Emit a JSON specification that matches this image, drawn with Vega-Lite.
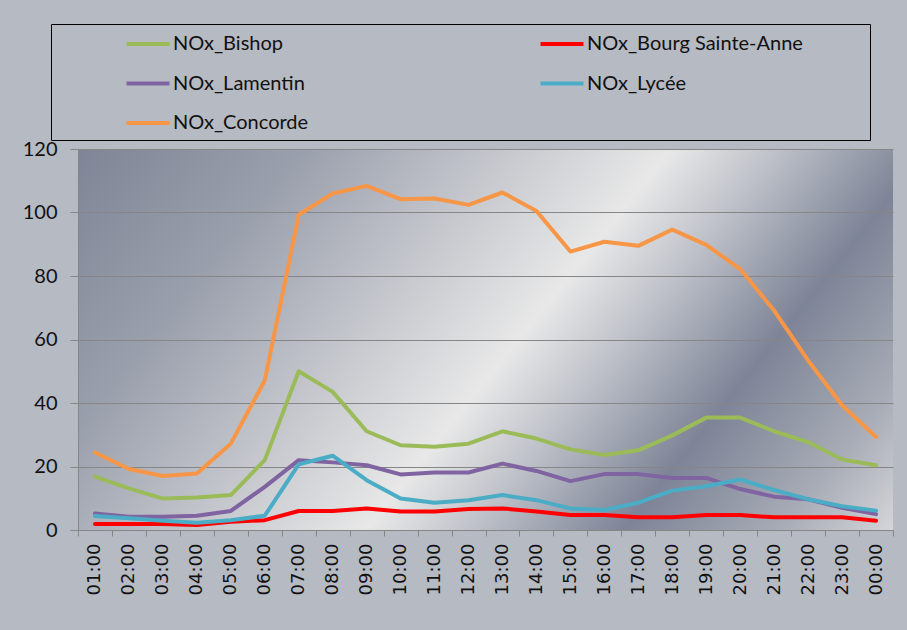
{
  "$schema": "https://vega.github.io/schema/vega-lite/v6.json",
  "autosize": "none",
  "width": 815,
  "height": 381,
  "padding": {"left": 78, "top": 149, "right": 14, "bottom": 100},
  "background": "#b6bac3",
  "config": {
    "view": {
      "stroke": null,
      "fill": {
        "gradient": "linear",
        "x1": 0, "y1": 0, "x2": 1.205, "y2": 0.451,
        "stops": [
          {"offset": 0, "color": "#7f8596"},
          {"offset": 0.2, "color": "#9a9fac"},
          {"offset": 0.53, "color": "#e8e8e8"},
          {"offset": 0.62, "color": "#c0c3ca"},
          {"offset": 0.76, "color": "#7e8497"},
          {"offset": 0.9, "color": "#a8acb6"},
          {"offset": 1, "color": "#d4d5d9"}
        ]
      }
    }
  },
  "data": {
    "values": [
      {"hour": "01:00", "station": "NOx_Bishop", "value": 16.8},
      {"hour": "02:00", "station": "NOx_Bishop", "value": 13.1},
      {"hour": "03:00", "station": "NOx_Bishop", "value": 9.9},
      {"hour": "04:00", "station": "NOx_Bishop", "value": 10.2},
      {"hour": "05:00", "station": "NOx_Bishop", "value": 11},
      {"hour": "06:00", "station": "NOx_Bishop", "value": 22},
      {"hour": "07:00", "station": "NOx_Bishop", "value": 50},
      {"hour": "08:00", "station": "NOx_Bishop", "value": 43.5},
      {"hour": "09:00", "station": "NOx_Bishop", "value": 31.1},
      {"hour": "10:00", "station": "NOx_Bishop", "value": 26.7},
      {"hour": "11:00", "station": "NOx_Bishop", "value": 26.2},
      {"hour": "12:00", "station": "NOx_Bishop", "value": 27.2},
      {"hour": "13:00", "station": "NOx_Bishop", "value": 31.1},
      {"hour": "14:00", "station": "NOx_Bishop", "value": 28.8},
      {"hour": "15:00", "station": "NOx_Bishop", "value": 25.4},
      {"hour": "16:00", "station": "NOx_Bishop", "value": 23.6},
      {"hour": "17:00", "station": "NOx_Bishop", "value": 25.1},
      {"hour": "18:00", "station": "NOx_Bishop", "value": 29.8},
      {"hour": "19:00", "station": "NOx_Bishop", "value": 35.4},
      {"hour": "20:00", "station": "NOx_Bishop", "value": 35.4},
      {"hour": "21:00", "station": "NOx_Bishop", "value": 31.1},
      {"hour": "22:00", "station": "NOx_Bishop", "value": 27.7},
      {"hour": "23:00", "station": "NOx_Bishop", "value": 22.2},
      {"hour": "00:00", "station": "NOx_Bishop", "value": 20.4},
      {"hour": "01:00", "station": "NOx_Bourg Sainte-Anne", "value": 1.9},
      {"hour": "02:00", "station": "NOx_Bourg Sainte-Anne", "value": 1.9},
      {"hour": "03:00", "station": "NOx_Bourg Sainte-Anne", "value": 1.9},
      {"hour": "04:00", "station": "NOx_Bourg Sainte-Anne", "value": 1.6},
      {"hour": "05:00", "station": "NOx_Bourg Sainte-Anne", "value": 2.6},
      {"hour": "06:00", "station": "NOx_Bourg Sainte-Anne", "value": 3.1},
      {"hour": "07:00", "station": "NOx_Bourg Sainte-Anne", "value": 6},
      {"hour": "08:00", "station": "NOx_Bourg Sainte-Anne", "value": 6},
      {"hour": "09:00", "station": "NOx_Bourg Sainte-Anne", "value": 6.8},
      {"hour": "10:00", "station": "NOx_Bourg Sainte-Anne", "value": 5.8},
      {"hour": "11:00", "station": "NOx_Bourg Sainte-Anne", "value": 5.8},
      {"hour": "12:00", "station": "NOx_Bourg Sainte-Anne", "value": 6.6},
      {"hour": "13:00", "station": "NOx_Bourg Sainte-Anne", "value": 6.8},
      {"hour": "14:00", "station": "NOx_Bourg Sainte-Anne", "value": 5.8},
      {"hour": "15:00", "station": "NOx_Bourg Sainte-Anne", "value": 4.7},
      {"hour": "16:00", "station": "NOx_Bourg Sainte-Anne", "value": 4.7},
      {"hour": "17:00", "station": "NOx_Bourg Sainte-Anne", "value": 4},
      {"hour": "18:00", "station": "NOx_Bourg Sainte-Anne", "value": 4},
      {"hour": "19:00", "station": "NOx_Bourg Sainte-Anne", "value": 4.7},
      {"hour": "20:00", "station": "NOx_Bourg Sainte-Anne", "value": 4.7},
      {"hour": "21:00", "station": "NOx_Bourg Sainte-Anne", "value": 4},
      {"hour": "22:00", "station": "NOx_Bourg Sainte-Anne", "value": 4},
      {"hour": "23:00", "station": "NOx_Bourg Sainte-Anne", "value": 4},
      {"hour": "00:00", "station": "NOx_Bourg Sainte-Anne", "value": 2.9},
      {"hour": "01:00", "station": "NOx_Lamentin", "value": 5.2},
      {"hour": "02:00", "station": "NOx_Lamentin", "value": 4.2},
      {"hour": "03:00", "station": "NOx_Lamentin", "value": 4.2},
      {"hour": "04:00", "station": "NOx_Lamentin", "value": 4.5},
      {"hour": "05:00", "station": "NOx_Lamentin", "value": 6},
      {"hour": "06:00", "station": "NOx_Lamentin", "value": 13.6},
      {"hour": "07:00", "station": "NOx_Lamentin", "value": 22},
      {"hour": "08:00", "station": "NOx_Lamentin", "value": 21.3},
      {"hour": "09:00", "station": "NOx_Lamentin", "value": 20.4},
      {"hour": "10:00", "station": "NOx_Lamentin", "value": 17.5},
      {"hour": "11:00", "station": "NOx_Lamentin", "value": 18.1},
      {"hour": "12:00", "station": "NOx_Lamentin", "value": 18.1},
      {"hour": "13:00", "station": "NOx_Lamentin", "value": 20.9},
      {"hour": "14:00", "station": "NOx_Lamentin", "value": 18.6},
      {"hour": "15:00", "station": "NOx_Lamentin", "value": 15.4},
      {"hour": "16:00", "station": "NOx_Lamentin", "value": 17.6},
      {"hour": "17:00", "station": "NOx_Lamentin", "value": 17.6},
      {"hour": "18:00", "station": "NOx_Lamentin", "value": 16.4},
      {"hour": "19:00", "station": "NOx_Lamentin", "value": 16.4},
      {"hour": "20:00", "station": "NOx_Lamentin", "value": 12.9},
      {"hour": "21:00", "station": "NOx_Lamentin", "value": 10.5},
      {"hour": "22:00", "station": "NOx_Lamentin", "value": 9.7},
      {"hour": "23:00", "station": "NOx_Lamentin", "value": 7},
      {"hour": "00:00", "station": "NOx_Lamentin", "value": 5},
      {"hour": "01:00", "station": "NOx_Lycée", "value": 4.4},
      {"hour": "02:00", "station": "NOx_Lycée", "value": 3.7},
      {"hour": "03:00", "station": "NOx_Lycée", "value": 2.9},
      {"hour": "04:00", "station": "NOx_Lycée", "value": 2.3},
      {"hour": "05:00", "station": "NOx_Lycée", "value": 3.1},
      {"hour": "06:00", "station": "NOx_Lycée", "value": 4.5},
      {"hour": "07:00", "station": "NOx_Lycée", "value": 20.7},
      {"hour": "08:00", "station": "NOx_Lycée", "value": 23.4},
      {"hour": "09:00", "station": "NOx_Lycée", "value": 15.7},
      {"hour": "10:00", "station": "NOx_Lycée", "value": 9.9},
      {"hour": "11:00", "station": "NOx_Lycée", "value": 8.6},
      {"hour": "12:00", "station": "NOx_Lycée", "value": 9.4},
      {"hour": "13:00", "station": "NOx_Lycée", "value": 11},
      {"hour": "14:00", "station": "NOx_Lycée", "value": 9.4},
      {"hour": "15:00", "station": "NOx_Lycée", "value": 6.8},
      {"hour": "16:00", "station": "NOx_Lycée", "value": 6.3},
      {"hour": "17:00", "station": "NOx_Lycée", "value": 8.6},
      {"hour": "18:00", "station": "NOx_Lycée", "value": 12.4},
      {"hour": "19:00", "station": "NOx_Lycée", "value": 13.8},
      {"hour": "20:00", "station": "NOx_Lycée", "value": 15.9},
      {"hour": "21:00", "station": "NOx_Lycée", "value": 12.6},
      {"hour": "22:00", "station": "NOx_Lycée", "value": 9.7},
      {"hour": "23:00", "station": "NOx_Lycée", "value": 7.5},
      {"hour": "00:00", "station": "NOx_Lycée", "value": 6.1},
      {"hour": "01:00", "station": "NOx_Concorde", "value": 24.4},
      {"hour": "02:00", "station": "NOx_Concorde", "value": 19.2},
      {"hour": "03:00", "station": "NOx_Concorde", "value": 17},
      {"hour": "04:00", "station": "NOx_Concorde", "value": 17.8},
      {"hour": "05:00", "station": "NOx_Concorde", "value": 27.2},
      {"hour": "06:00", "station": "NOx_Concorde", "value": 47.1},
      {"hour": "07:00", "station": "NOx_Concorde", "value": 99.3},
      {"hour": "08:00", "station": "NOx_Concorde", "value": 106},
      {"hour": "09:00", "station": "NOx_Concorde", "value": 108.4},
      {"hour": "10:00", "station": "NOx_Concorde", "value": 104.2},
      {"hour": "11:00", "station": "NOx_Concorde", "value": 104.4},
      {"hour": "12:00", "station": "NOx_Concorde", "value": 102.4},
      {"hour": "13:00", "station": "NOx_Concorde", "value": 106.3},
      {"hour": "14:00", "station": "NOx_Concorde", "value": 100.5},
      {"hour": "15:00", "station": "NOx_Concorde", "value": 87.7},
      {"hour": "16:00", "station": "NOx_Concorde", "value": 90.8},
      {"hour": "17:00", "station": "NOx_Concorde", "value": 89.5},
      {"hour": "18:00", "station": "NOx_Concorde", "value": 94.6},
      {"hour": "19:00", "station": "NOx_Concorde", "value": 89.8},
      {"hour": "20:00", "station": "NOx_Concorde", "value": 82.2},
      {"hour": "21:00", "station": "NOx_Concorde", "value": 69.1},
      {"hour": "22:00", "station": "NOx_Concorde", "value": 53.4},
      {"hour": "23:00", "station": "NOx_Concorde", "value": 39.3},
      {"hour": "00:00", "station": "NOx_Concorde", "value": 29.3}
    ]
  },
  "mark": {"type": "line", "strokeWidth": 4, "strokeJoin": "round", "strokeCap": "round"},
  "encoding": {
    "x": {
      "field": "hour",
      "type": "ordinal",
      "sort": null,
      "scale": {"type": "band", "paddingInner": 0, "paddingOuter": 0},
      "axis": {
        "title": null,
        "labelAngle": -90,
        "labelFont": "DejaVu Sans",
        "labelFontSize": 18,
        "labelColor": "#111111",
        "labelPadding": 7,
        "tickBand": "extent",
        "tickSize": 6,
        "tickColor": "#868686",
        "domainColor": "#868686",
        "grid": false
      }
    },
    "y": {
      "field": "value",
      "type": "quantitative",
      "scale": {"domain": [0, 120]},
      "axis": {
        "title": null,
        "values": [0, 20, 40, 60, 80, 100, 120],
        "labelFont": "Lato",
        "labelFontSize": 20,
        "labelColor": "#111111",
        "labelPadding": 13,
        "tickSize": 8,
        "tickColor": "#868686",
        "domainColor": "#868686",
        "gridColor": "#868686",
        "gridOpacity": 1
      }
    },
    "color": {
      "field": "station",
      "type": "nominal",
      "sort": ["NOx_Bishop", "NOx_Lamentin", "NOx_Concorde", "NOx_Bourg Sainte-Anne", "NOx_Lycée"],
      "scale": {
        "domain": ["NOx_Bishop", "NOx_Lamentin", "NOx_Concorde", "NOx_Bourg Sainte-Anne", "NOx_Lycée"],
        "range": ["#9bbb59", "#8064a2", "#f79646", "#ff0000", "#4bacc6"]
      },
      "legend": {
        "title": " ",
        "titleOrient": "right",
        "titlePadding": 60,
        "titleFontSize": 20,
        "orient": "none",
        "legendX": -27,
        "legendY": -125,
        "columns": 2,
        "strokeColor": "#000000",
        "padding": 7,
        "symbolType": "M-2,0L2,0",
        "symbolSize": 462,
        "symbolStrokeWidth": 4,
        "symbolOffset": 77,
        "labelOffset": 12,
        "labelFont": "Lato",
        "labelFontSize": 20,
        "labelColor": "#111111",
        "labelLimit": 500,
        "rowPadding": 16.5,
        "columnPadding": 163
      }
    }
  }
}
